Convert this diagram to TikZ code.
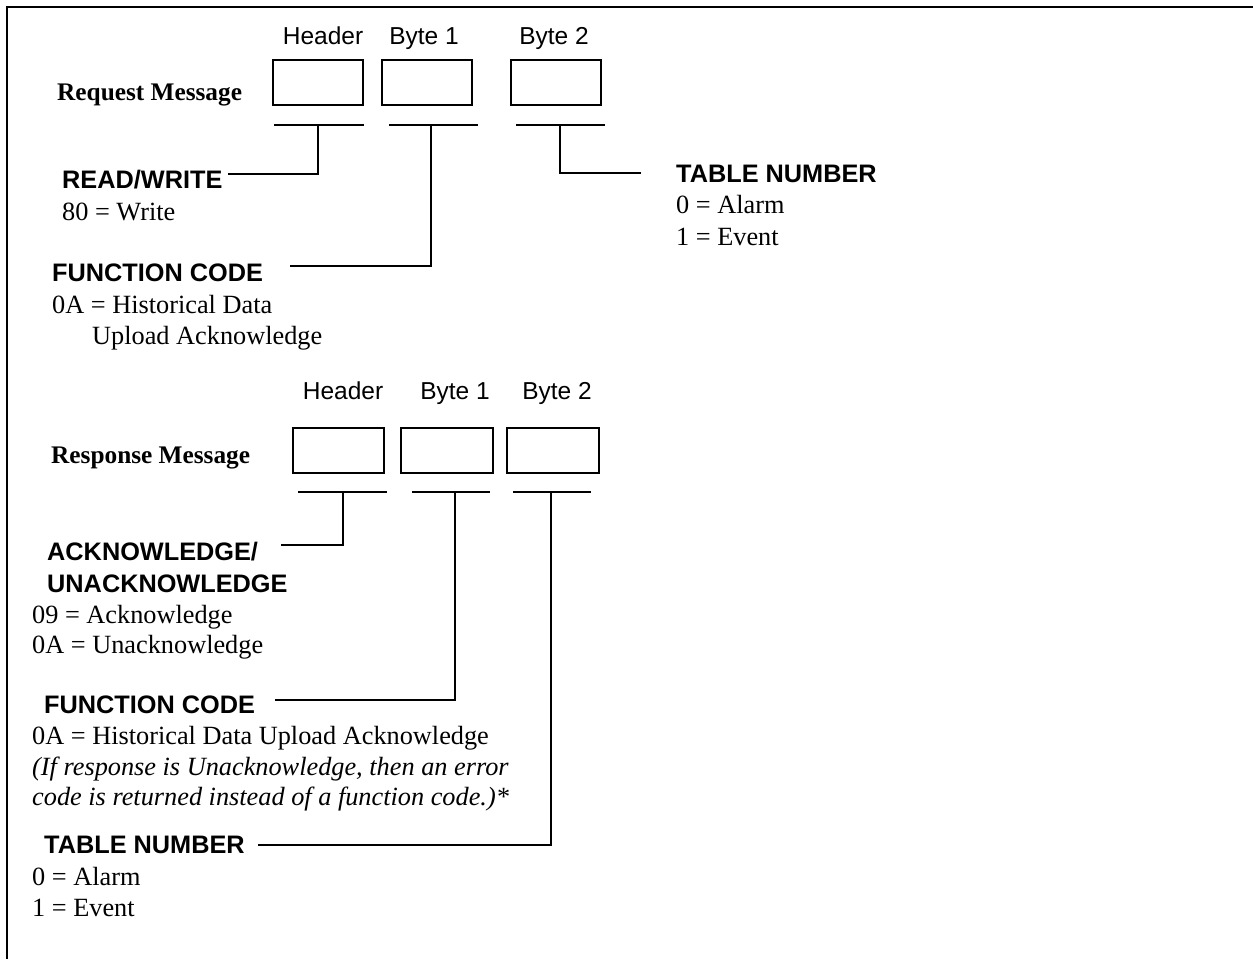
\documentclass[tikz,border=0pt]{standalone}
\usepackage{fontspec}
\setmainfont{Liberation Serif}
\setsansfont{Liberation Sans}
\usetikzlibrary{calc}
\tikzset{
  field/.style={draw, line width=2pt, minimum width=90pt, minimum height=45pt, inner sep=0pt},
  lead/.style={line width=2pt},
  hdr/.style={anchor=base, inner sep=0pt, font=\sffamily\fontsize{24.5}{30}\selectfont},
  title/.style={anchor=base west, inner sep=0pt, font=\bfseries\fontsize{25.3}{30}\selectfont},
  tag/.style={anchor=base west, inner sep=0pt, font=\sffamily\bfseries\fontsize{25.3}{30}\selectfont},
  val/.style={anchor=base west, inner sep=0pt, font=\fontsize{26.3}{31}\selectfont},
  note/.style={anchor=base west, inner sep=0pt, font=\itshape\fontsize{26.3}{31}\selectfont},
}
\begin{document}
\begin{tikzpicture}[x=1pt,y=-1pt]
\useasboundingbox (0,0) rectangle (1253,959);
% page frame (top and left rules only)
\draw[line width=2pt] (1253,7) -- (7,7) -- (7,959);

% ---------------- request message ----------------
\node[hdr] (rqh) at (323,44) {Header};
\node[hdr] (rq1) at (424,44) {Byte 1};
\node[hdr] (rq2) at (554,44) {Byte 2};
\node[title] (rqt) at (57,100) {Request Message};
\node[field] (rqbh) at (318,82.5) {};
\node[field] (rqb1) at (427,82.5) {};
\node[field] (rqb2) at (556,82.5) {};

\coordinate (rqmh) at (318,125);
\coordinate (rqm1) at (431,125);
\coordinate (rqm2) at (560,125);
\draw[lead] (274,125) -- (364,125);
\draw[lead] (389,125) -- (478,125);
\draw[lead] (516,125) -- (605,125);

\node[tag] (rw) at (62,188) {READ/WRITE};
\node[val] (rwv) at (62,220) {80 = Write};
\coordinate (rwend) at (228,174);
\draw[lead] (rqmh) |- (rwend);

\node[tag] (rqfc) at (52,281) {FUNCTION CODE};
\node[val] (rqfc1) at (52,313) {0A = Historical Data};
\node[val] (rqfc2) at (92,344) {Upload Acknowledge};
\coordinate (rqfcend) at (290,266);
\draw[lead] (rqm1) |- (rqfcend);

\node[tag] (rqtn) at (676,182) {TABLE NUMBER};
\node[val] (rqtn1) at (676,213) {0 = Alarm};
\node[val] (rqtn2) at (676,245) {1 = Event};
\coordinate (rqtnend) at (641,173);
\draw[lead] (rqm2) |- (rqtnend);

% ---------------- response message ----------------
\node[hdr] (rsh) at (343,399) {Header};
\node[hdr] (rs1) at (455,399) {Byte 1};
\node[hdr] (rs2) at (557,399) {Byte 2};
\node[title] (rst) at (51,463) {Response Message};
\node[field, minimum width=91pt] (rsbh) at (338.5,450.5) {};
\node[field, minimum width=92pt] (rsb1) at (447,450.5) {};
\node[field, minimum width=92pt] (rsb2) at (553,450.5) {};

\coordinate (rsmh) at (343,492);
\coordinate (rsm1) at (455,492);
\coordinate (rsm2) at (551,492);
\draw[lead] (298,492) -- (387,492);
\draw[lead] (412,492) -- (490,492);
\draw[lead] (513,492) -- (591,492);

\node[tag] (ack) at (47,560) {ACKNOWLEDGE/};
\node[tag] (unack) at (47,592) {UNACKNOWLEDGE};
\node[val] (ack1) at (32,623) {09 = Acknowledge};
\node[val] (ack2) at (32,653) {0A = Unacknowledge};
\coordinate (ackend) at (281,545);
\draw[lead] (rsmh) |- (ackend);

\node[tag] (rsfc) at (44,713) {FUNCTION CODE};
\node[val] (rsfc1) at (32,744) {0A = Historical Data Upload Acknowledge};
\node[note] (rsfc2) at (32,775) {(If response is Unacknowledge, then an error};
\node[note] (rsfc3) at (32,805) {code is returned instead of a function code.)*};
\coordinate (rsfcend) at (275,700);
\draw[lead] (rsm1) |- (rsfcend);

\node[tag] (rstn) at (44,853) {TABLE NUMBER};
\node[val] (rstn1) at (32,885) {0 = Alarm};
\node[val] (rstn2) at (32,916) {1 = Event};
\coordinate (rstnend) at (258,845);
\draw[lead] (rsm2) |- (rstnend);
\end{tikzpicture}
\end{document}
